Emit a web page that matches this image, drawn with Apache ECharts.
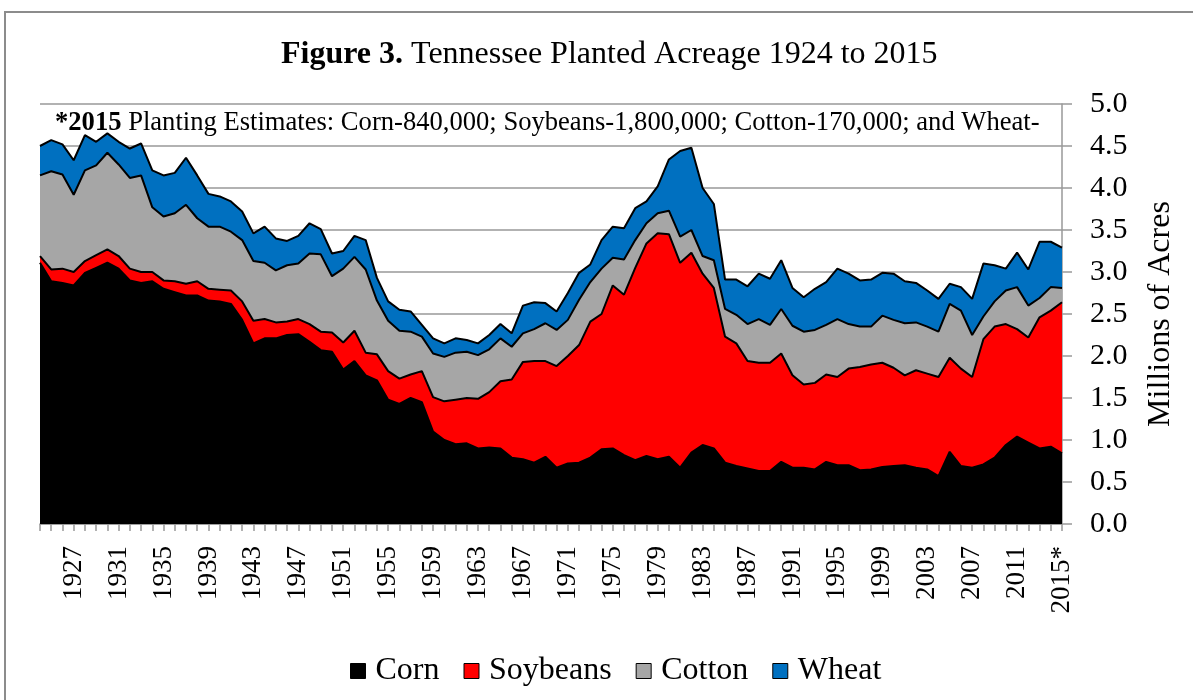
<!DOCTYPE html>
<html>
<head>
<meta charset="utf-8">
<script src="https://cdn.jsdelivr.net/npm/echarts@6/dist/echarts.min.js"></script>
<style>
  html, body { margin: 0; padding: 0; background: #fff; }
  #chart { width: 1193px; height: 700px; }
</style>
</head>
<body>
<div id="chart"></div>
<script>
// planted acreage, millions of acres, 1924 - 2015 (2015 = estimate)
const years = [
  '1924','1925','1926','1927','1928','1929','1930','1931','1932','1933',
  '1934','1935','1936','1937','1938','1939','1940','1941','1942','1943',
  '1944','1945','1946','1947','1948','1949','1950','1951','1952','1953',
  '1954','1955','1956','1957','1958','1959','1960','1961','1962','1963',
  '1964','1965','1966','1967','1968','1969','1970','1971','1972','1973',
  '1974','1975','1976','1977','1978','1979','1980','1981','1982','1983',
  '1984','1985','1986','1987','1988','1989','1990','1991','1992','1993',
  '1994','1995','1996','1997','1998','1999','2000','2001','2002','2003',
  '2004','2005','2006','2007','2008','2009','2010','2011','2012','2013',
  '2014','2015*'
];
const corn = [
  3.11,2.89,2.87,2.84,2.99,3.05,3.11,3.04,2.90,2.87,
  2.89,2.80,2.76,2.72,2.72,2.66,2.65,2.62,2.43,2.15,
  2.21,2.21,2.25,2.26,2.17,2.07,2.05,1.84,1.94,1.77,
  1.71,1.48,1.43,1.50,1.45,1.10,1.00,0.95,0.96,0.90,
  0.91,0.90,0.79,0.77,0.73,0.80,0.67,0.72,0.73,0.79,
  0.89,0.90,0.82,0.76,0.81,0.77,0.80,0.67,0.85,0.94,
  0.90,0.73,0.69,0.66,0.63,0.63,0.74,0.67,0.67,0.65,
  0.74,0.70,0.70,0.64,0.65,0.68,0.69,0.70,0.67,0.65,
  0.57,0.86,0.69,0.67,0.71,0.79,0.94,1.04,0.97,0.90,
  0.92,0.84
];
const soybeans = [
  0.08,0.14,0.17,0.16,0.14,0.15,0.16,0.15,0.14,0.13,
  0.11,0.10,0.13,0.14,0.17,0.14,0.14,0.16,0.22,0.27,
  0.23,0.19,0.16,0.18,0.21,0.22,0.23,0.32,0.36,0.27,
  0.31,0.34,0.30,0.28,0.37,0.41,0.46,0.53,0.54,0.59,
  0.66,0.80,0.93,1.16,1.21,1.14,1.21,1.28,1.40,1.62,
  1.61,1.94,1.91,2.29,2.53,2.69,2.65,2.44,2.38,2.04,
  1.91,1.50,1.46,1.28,1.29,1.29,1.29,1.10,0.99,1.03,
  1.04,1.05,1.15,1.23,1.25,1.24,1.17,1.07,1.16,1.14,
  1.18,1.12,1.16,1.08,1.49,1.56,1.44,1.28,1.25,1.56,
  1.62,1.80
];
const cotton = [
  0.96,1.17,1.12,0.92,1.08,1.07,1.15,1.09,1.08,1.15,
  0.77,0.76,0.81,0.94,0.75,0.74,0.75,0.70,0.73,0.71,
  0.67,0.62,0.67,0.66,0.84,0.92,0.67,0.88,0.88,0.99,
  0.64,0.60,0.57,0.51,0.41,0.52,0.53,0.56,0.55,0.52,
  0.51,0.51,0.39,0.34,0.38,0.45,0.43,0.43,0.54,0.47,
  0.54,0.33,0.42,0.33,0.24,0.24,0.28,0.31,0.27,0.21,
  0.33,0.33,0.34,0.44,0.52,0.45,0.53,0.59,0.63,0.63,
  0.59,0.69,0.53,0.48,0.45,0.56,0.57,0.62,0.57,0.56,
  0.54,0.64,0.69,0.50,0.27,0.30,0.40,0.50,0.38,0.23,
  0.28,0.17
];
const wheat = [
  0.35,0.37,0.36,0.41,0.42,0.28,0.23,0.27,0.35,0.38,
  0.44,0.49,0.48,0.56,0.51,0.39,0.36,0.36,0.34,0.33,
  0.43,0.38,0.29,0.33,0.36,0.30,0.27,0.21,0.25,0.35,
  0.27,0.23,0.25,0.24,0.14,0.18,0.16,0.17,0.14,0.14,
  0.17,0.17,0.16,0.33,0.32,0.24,0.22,0.32,0.32,0.21,
  0.34,0.37,0.37,0.38,0.26,0.32,0.61,1.02,0.98,0.81,
  0.67,0.35,0.42,0.45,0.54,0.55,0.58,0.45,0.41,0.49,
  0.51,0.60,0.60,0.55,0.56,0.51,0.55,0.50,0.47,0.43,
  0.39,0.24,0.28,0.43,0.63,0.43,0.26,0.41,0.43,0.67,
  0.54,0.48
];

const FONT = '"Liberation Serif", "Times New Roman", serif';
const GRID_GRAY = '#999999';

const crops = [
  { name: 'Corn', data: corn, color: '#000000' },
  { name: 'Soybeans', data: soybeans, color: '#ff0000' },
  { name: 'Cotton', data: cotton, color: '#a6a6a6' },
  { name: 'Wheat', data: wheat, color: '#0070c0' }
];

const chart = echarts.init(document.getElementById('chart'));

chart.setOption({
  animation: false,
  backgroundColor: '#fff',
  textStyle: { fontFamily: FONT, color: '#000' },
  title: [
    {
      text: '{b|Figure 3.} Tennessee Planted Acreage 1924 to 2015',
      left: 281,
      top: 39,
      padding: 0,
      textStyle: {
        fontFamily: FONT,
        fontSize: 32,
        fontWeight: 'normal',
        color: '#000',
        rich: {
          b: { fontFamily: FONT, fontSize: 32, fontWeight: 'bold', color: '#000' }
        }
      }
    },
    {
      text: '{b|*2015} Planting Estimates: Corn-840,000; Soybeans-1,800,000; Cotton-170,000; and Wheat-',
      left: 55,
      top: 110,
      padding: 0,
      textStyle: {
        fontFamily: FONT,
        fontSize: 26.6,
        fontWeight: 'normal',
        color: '#000',
        rich: {
          b: { fontFamily: FONT, fontSize: 26.6, fontWeight: 'bold', color: '#000' }
        }
      }
    }
  ],
  legend: {
    left: 345,
    top: 650,
    itemWidth: 15,
    itemHeight: 15,
    itemGap: 24,
    icon: 'rect',
    textStyle: { fontFamily: FONT, fontSize: 32, color: '#000', padding: [0, 0, 0, 5] },
    data: crops.map(c => ({
      name: c.name,
      icon: 'rect',
      itemStyle: { color: c.color, borderColor: '#000', borderWidth: 1 }
    }))
  },
  graphic: [
    {
      type: 'rect',
      shape: { x: 5, y: 12, width: 1200, height: 710 },
      style: { fill: 'none', stroke: '#8c8c8c', lineWidth: 2 },
      silent: true
    }
  ],
  grid: {
    left: 40,
    right: 131,
    top: 104,
    bottom: 176,
    containLabel: false
  },
  xAxis: {
    type: 'category',
    boundaryGap: false,
    data: years,
    axisLine: { show: true, lineStyle: { color: GRID_GRAY, width: 1.5 } },
    axisTick: { show: true, interval: 0, length: 7, lineStyle: { color: GRID_GRAY, width: 1.5 } },
    axisLabel: {
      interval: (index) => index % 4 === 3,
      rotate: 90,
      margin: 22,
      fontFamily: FONT,
      fontSize: 27,
      color: '#000'
    },
    splitLine: { show: false }
  },
  yAxis: {
    type: 'value',
    position: 'right',
    min: 0,
    max: 5,
    interval: 0.5,
    name: 'Millions of Acres',
    nameLocation: 'middle',
    nameRotate: 90,
    nameGap: 83,
    nameTextStyle: { fontFamily: FONT, fontSize: 32, color: '#000' },
    axisLine: { show: true, lineStyle: { color: GRID_GRAY, width: 1.5 } },
    axisTick: { show: true, length: 10, lineStyle: { color: GRID_GRAY, width: 1.5 } },
    axisLabel: {
      margin: 28,
      fontFamily: FONT,
      fontSize: 30,
      color: '#000',
      formatter: (v) => v.toFixed(1)
    },
    splitLine: { show: true, lineStyle: { color: GRID_GRAY, width: 1.5 } }
  },
  // lower series get higher z so their outline sits on top of the next area
  series: crops.map((c, i) => ({
    name: c.name,
    type: 'line',
    stack: 'acres',
    data: c.data,
    color: c.color,
    symbol: 'none',
    z: 10 - i,
    lineStyle: { color: '#000', width: 2 },
    areaStyle: { color: c.color, opacity: 1 },
    emphasis: { disabled: true }
  }))
});
</script>
</body>
</html>
